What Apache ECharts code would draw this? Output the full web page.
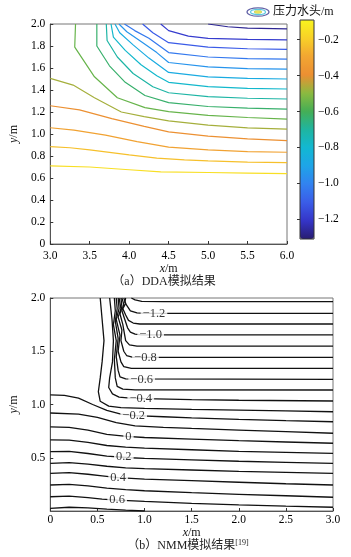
<!DOCTYPE html>
<html>
<head>
<meta charset="utf-8">
<script src="https://cdn.jsdelivr.net/npm/echarts@6/dist/echarts.min.js"></script>
<style>
html,body{margin:0;padding:0;background:#fff;}
#chart{width:351px;height:557px;}
</style>
</head>
<body>
<div id="chart"></div>
<script>
// (a) DDA — pressure head levels of the contour lines, bottom to top
var ddaLevels = [-0.15, -0.23, -0.31, -0.39, -0.47, -0.55, -0.63, -0.71, -0.79, -0.87, -0.95, -1.03, -1.11, -1.19, -1.27];
// lines reaching the left edge
var ddaL1 = [[3,0.71],[3.5,0.70],[4.0,0.675],[4.4,0.655],[5.0,0.65],[5.5,0.645],[6,0.64]];
var ddaL2 = [[3,0.885],[3.25,0.875],[3.5,0.855],[4.0,0.81],[4.35,0.78],[4.7,0.765],[5.0,0.755],[5.5,0.745],[6,0.74]];
var ddaL3 = [[3,1.057],[3.3,1.035],[3.7,0.99],[4.1,0.93],[4.5,0.88],[5.0,0.855],[5.5,0.84],[6,0.834]];
var ddaL4 = [[3,1.257],[3.37,1.22],[3.78,1.14],[4.19,1.07],[4.5,1.02],[5.0,0.98],[5.5,0.955],[6,0.94]];
var ddaL5 = [[3,1.506],[3.29,1.445],[3.56,1.33],[3.9,1.2],[4.19,1.158],[4.5,1.12],[5.0,1.08],[5.5,1.055],[6,1.045]];
// lines reaching the top edge
var ddaU1 = [[3.32,2.0],[3.31,1.79],[3.56,1.52],[3.85,1.33],[4.2,1.24],[4.5,1.203],[5.0,1.17],[5.5,1.15],[6,1.136]];
var ddaU2 = [[3.59,2.0],[3.59,1.80],[3.75,1.62],[3.95,1.47],[4.2,1.35],[4.5,1.285],[5.0,1.25],[5.5,1.235],[6,1.227]];
var ddaU3 = [[3.71,2.0],[3.72,1.85],[3.85,1.70],[4.05,1.55],[4.3,1.43],[4.5,1.375],[5.0,1.34],[5.5,1.325],[6,1.318]];
var ddaU4 = [[3.77,2.0],[3.80,1.88],[3.95,1.76],[4.15,1.63],[4.35,1.53],[4.5,1.47],[5.0,1.43],[5.5,1.415],[6,1.409]];
var ddaU5 = [[3.82,2.0],[3.88,1.92],[4.05,1.81],[4.25,1.69],[4.5,1.56],[5.0,1.52],[5.5,1.505],[6,1.50]];
var ddaU6 = [[3.87,2.0],[3.97,1.93],[4.15,1.84],[4.35,1.74],[4.5,1.65],[5.0,1.61],[5.5,1.595],[6,1.59]];
var ddaU7 = [[3.94,2.0],[4.07,1.94],[4.25,1.87],[4.5,1.74],[5.0,1.70],[5.5,1.685],[6,1.68]];
var ddaU8 = [[4.17,2.0],[4.3,1.92],[4.5,1.83],[5.0,1.79],[5.5,1.775],[6,1.77]];
var ddaU9 = [[4.4,2.0],[4.5,1.94],[4.75,1.89],[5.0,1.87],[5.5,1.86],[6,1.855]];
var ddaU10 = [[5.0,2.0],[5.25,1.975],[5.5,1.962],[6,1.955]];
var ddaLines = [ddaL1, ddaL2, ddaL3, ddaL4, ddaL5, ddaU1, ddaU2, ddaU3, ddaU4, ddaU5, ddaU6, ddaU7, ddaU8, ddaU9, ddaU10];

// colour bar
var cbMin = -1.31, cbMax = -0.09;
var cbTicks = [-1.2, -1.0, -0.8, -0.6, -0.4, -0.2];
var cbColors = ['#281c70','#3535c8','#3a5ce8','#3282f0','#1ea4e8','#12b8d2','#1fb5a0','#45ae55','#8cba40','#ec8f32','#f2a632','#f8d028','#f8f41e'];

// (b) NMM — contour levels and lines
var nmmLevels = [-1.3, -1.2, -1.1, -1.0, -0.9, -0.8, -0.7, -0.6, -0.5, -0.4, -0.3, -0.2, -0.1, 0, 0.1, 0.2, 0.3, 0.4, 0.5, 0.6, 0.7];
var nmmM13 = [[0.86,2.0],[0.9,1.982],[0.97,1.968],[1.2,1.966],[3,1.966]];
var nmmM12 = [[0.8,2.0],[0.79,1.96],[0.82,1.92],[0.85,1.88],[0.92,1.86],[1.0,1.856],[3,1.856]];
var nmmM11 = [[0.78,2.0],[0.8,1.95],[0.77,1.9],[0.8,1.84],[0.83,1.79],[0.88,1.765],[0.95,1.756],[3,1.756]];
var nmmM10 = [[0.76,2.0],[0.78,1.94],[0.76,1.88],[0.79,1.8],[0.82,1.72],[0.85,1.68],[0.9,1.66],[0.97,1.653],[3,1.653]];
var nmmM09 = [[0.75,2.0],[0.76,1.92],[0.74,1.85],[0.77,1.75],[0.79,1.65],[0.8,1.6],[0.84,1.56],[0.92,1.549],[3,1.549]];
var nmmM08 = [[0.73,2.0],[0.75,1.9],[0.72,1.82],[0.76,1.7],[0.75,1.6],[0.78,1.5],[0.81,1.46],[0.88,1.443],[3,1.443]];
var nmmM07 = [[0.72,2.0],[0.73,1.9],[0.7,1.8],[0.74,1.65],[0.72,1.5],[0.75,1.4],[0.78,1.355],[0.86,1.339],[3,1.339]];
var nmmM06 = [[0.7,2.0],[0.71,1.9],[0.69,1.78],[0.72,1.62],[0.7,1.45],[0.72,1.32],[0.74,1.26],[0.8,1.24],[3,1.236]];
var nmmM05 = [[0.68,2.0],[0.69,1.88],[0.67,1.75],[0.7,1.6],[0.68,1.42],[0.69,1.25],[0.71,1.17],[0.77,1.145],[0.9,1.138],[3,1.136]];
var nmmM04 = [[0.63,2.0],[0.655,1.8],[0.67,1.6],[0.66,1.4],[0.63,1.25],[0.62,1.16],[0.66,1.1],[0.73,1.07],[0.85,1.06],[1.0,1.055],[1.5,1.045],[2,1.04],[3,1.033]];
var nmmM03 = [[0.53,2.0],[0.55,1.8],[0.57,1.6],[0.55,1.4],[0.53,1.25],[0.51,1.12],[0.53,1.03],[0.62,0.985],[0.75,0.97],[1.0,0.963],[1.5,0.955],[2.0,0.948],[2.5,0.94],[3,0.932]];
var nmmM02 = [[0,1.09],[0.15,1.085],[0.3,1.06],[0.45,1.0],[0.6,0.945],[0.75,0.91],[0.9,0.895],[1.2,0.885],[1.5,0.875],[2.0,0.86],[2.5,0.848],[3,0.838]];
var nmmM01 = [[0,0.92],[0.3,0.91],[0.5,0.88],[0.7,0.83],[0.9,0.8],[1.2,0.785],[1.5,0.775],[2.0,0.76],[2.5,0.745],[3,0.73]];
var nmmP00 = [[0,0.79],[0.2,0.785],[0.4,0.76],[0.6,0.72],[0.81,0.70],[1.0,0.69],[1.5,0.675],[2.0,0.66],[2.5,0.648],[3,0.636]];
var nmmP01 = [[0,0.667],[0.2,0.665],[0.4,0.645],[0.6,0.615],[0.8,0.6],[1.0,0.59],[1.5,0.575],[2.0,0.56],[2.5,0.55],[3,0.542]];
var nmmP02 = [[0,0.557],[0.2,0.56],[0.4,0.54],[0.6,0.515],[0.85,0.50],[1.0,0.495],[1.5,0.48],[2.0,0.467],[2.5,0.457],[3,0.448]];
var nmmP03 = [[0,0.448],[0.2,0.455],[0.4,0.44],[0.6,0.42],[0.8,0.405],[1.0,0.398],[1.5,0.385],[2.0,0.372],[2.5,0.362],[3,0.354]];
var nmmP04 = [[0,0.354],[0.2,0.36],[0.4,0.345],[0.55,0.33],[0.72,0.313],[1.0,0.3],[1.5,0.285],[2.0,0.27],[2.5,0.256],[3,0.244]];
var nmmP05 = [[0,0.244],[0.2,0.25],[0.4,0.235],[0.6,0.215],[0.8,0.2],[1.0,0.19],[1.5,0.172],[2.0,0.157],[2.5,0.143],[3,0.129]];
var nmmP06 = [[0,0.134],[0.2,0.14],[0.4,0.125],[0.55,0.112],[0.71,0.103],[1.0,0.09],[1.5,0.072],[2.0,0.057],[2.5,0.045],[3,0.035]];
var nmmP07 = [[0,0.025],[0.2,0.035],[0.4,0.03],[0.6,0.018],[0.8,0.008],[1.0,0.0]];
var nmmLines = [nmmM13, nmmM12, nmmM11, nmmM10, nmmM09, nmmM08, nmmM07, nmmM06, nmmM05, nmmM04, nmmM03, nmmM02, nmmM01,
                nmmP00, nmmP01, nmmP02, nmmP03, nmmP04, nmmP05, nmmP06, nmmP07];
// inline contour labels
var nmmLabelPos = [[1.1,1.856],[1.065,1.653],[1.01,1.443],[0.97,1.236],[0.96,1.056],[0.885,0.896],[0.83,0.699],[0.78,0.505],[0.72,0.313],[0.71,0.104]];
var nmmLabelText = ['\u22121.2','\u22121.0','\u22120.8','\u22120.6','\u22120.4','\u22120.2','0','0.2','0.4','0.6'];

var font = '"Liberation Serif", "Noto Sans CJK SC", serif';
var tickFmt = function (v) { return v === 0 ? '0' : v.toFixed(1); };

var chart = echarts.init(document.getElementById('chart'));

function valueAxis(gridIndex, min, max, interval, extra) {
  var ax = {
    type: 'value', gridIndex: gridIndex, min: min, max: max, interval: interval,
    axisLine: { show: true, lineStyle: { color: '#555', width: 1 } },
    axisTick: { show: true, inside: true, length: 3, lineStyle: { color: '#333' } },
    axisLabel: { formatter: tickFmt, fontFamily: font, fontSize: 11.5, color: '#000', margin: 5 },
    splitLine: { show: false },
    nameTextStyle: { fontFamily: font, fontSize: 12, color: '#111', rich: { i: { fontStyle: 'italic', fontFamily: font, fontSize: 12 } } }
  };
  for (var k in extra) ax[k] = extra[k];
  return ax;
}

var legendIcon = 'image://data:image/svg+xml;charset=utf-8,' + encodeURIComponent(
  "<svg xmlns='http://www.w3.org/2000/svg' width='24' height='10'>" +
  "<ellipse cx='12' cy='5' rx='11' ry='4.2' fill='#ffffff' stroke='#3a3a90' stroke-width='1.2'/>" +
  "<ellipse cx='12' cy='5' rx='7.5' ry='2.7' fill='none' stroke='#30b8d8' stroke-width='1.2'/>" +
  "<ellipse cx='12' cy='5' rx='4' ry='1.4' fill='#f0e030' stroke='#90c040' stroke-width='0.6'/></svg>");

var series = [];
ddaLines.forEach(function (line, i) {
  var t = (ddaLevels[i] - cbMin) / (cbMax - cbMin);
  series.push({
    type: 'line', xAxisIndex: 0, yAxisIndex: 0, data: line, showSymbol: false, silent: true,
    lineStyle: { color: echarts.color.lerp(t, cbColors), width: 1.2 }
  });
});
var dummyIndex = series.length;
series.push({ type: 'scatter', name: '压力水头/m', xAxisIndex: 1, yAxisIndex: 1, data: [] });
nmmLines.forEach(function (line) {
  series.push({
    type: 'line', xAxisIndex: 2, yAxisIndex: 2, data: line, showSymbol: false, silent: true,
    lineStyle: { color: '#111', width: 1.3 }
  });
});
series.push({
  type: 'scatter', xAxisIndex: 2, yAxisIndex: 2, symbolSize: 1, silent: true, z: 5,
  itemStyle: { color: 'rgba(0,0,0,0)' },
  data: nmmLabelPos.map(function (p, i) { return { value: p, name: nmmLabelText[i] }; }),
  label: {
    show: true, position: 'inside', formatter: function (p) { return p.name; },
    fontFamily: font, fontSize: 12.5, color: '#000', backgroundColor: '#fff', padding: [0, 2]
  }
});

chart.setOption({
  animation: false,
  backgroundColor: '#fff',
  grid: [
    { left: 43, top: 24, width: 244, height: 220, show: true, borderColor: '#777', borderWidth: 1 },
    { left: 300, top: 20, width: 14, height: 219, show: true, borderColor: '#333', borderWidth: 1, z: 10 },
    { left: 43, top: 298, width: 290, height: 213, show: true, borderColor: '#777', borderWidth: 1 }
  ],
  xAxis: [
    valueAxis(0, 3, 6, 0.5, { name: '{i|x}/m', nameLocation: 'middle', nameGap: 18,
      axisLabel: { formatter: tickFmt, fontFamily: font, fontSize: 11.5, color: '#000', margin: 6 } }),
    { type: 'value', gridIndex: 1, min: 0, max: 1, show: false },
    valueAxis(2, 0, 3, 0.5, { name: '{i|x}/m', nameLocation: 'middle', nameGap: 16,
      axisLabel: { formatter: tickFmt, fontFamily: font, fontSize: 11.5, color: '#000', margin: 3 } })
  ],
  yAxis: [
    valueAxis(0, 0, 2, 0.2, { name: '{i|y}/m', nameLocation: 'middle', nameGap: 20, nameRotate: 90 }),
    { type: 'value', gridIndex: 1, min: cbMin, max: cbMax, position: 'right', z: 11,
      axisLine: { show: false },
      axisTick: { show: true, inside: true, length: 3, customValues: cbTicks, lineStyle: { color: '#333' } },
      axisLabel: { customValues: cbTicks, margin: 4, fontFamily: font, fontSize: 11.5, color: '#000',
        formatter: function (v) { return '\u2212' + Math.abs(v).toFixed(1); } },
      splitLine: { show: false } },
    valueAxis(2, 0, 2, 0.5, { name: '{i|y}/m', nameLocation: 'middle', nameGap: 20, nameRotate: 90,
      axisLabel: { formatter: tickFmt, fontFamily: font, fontSize: 11.5, color: '#000', margin: 5, showMinLabel: false } })
  ],
  visualMap: {
    type: 'continuous', min: cbMin, max: cbMax, seriesIndex: dummyIndex,
    left: 300, top: 20, itemWidth: 14, itemHeight: 219, padding: 0,
    calculable: false, hoverLink: false, inRange: { color: cbColors }
  },
  legend: {
    left: 246, top: 6, padding: 0, itemWidth: 24, itemHeight: 10, selectedMode: false,
    data: [{ name: '压力水头/m', icon: legendIcon }],
    textStyle: { fontFamily: font, fontSize: 12, color: '#111', padding: [0, 0, 0, -2] }
  },
  graphic: [
    { type: 'text', x: 164, y: 282, silent: true,
      style: { text: '（a）DDA模拟结果', fontFamily: font, fontSize: 12, fill: '#222', align: 'center', verticalAlign: 'middle' } },
    { type: 'text', x: 188, y: 546, silent: true,
      style: { text: '（b）NMM模拟结果{sup|[19]}', fontFamily: font, fontSize: 12, fill: '#222', align: 'center', verticalAlign: 'middle',
        rich: { sup: { fontFamily: font, fontSize: 8, fill: '#222', verticalAlign: 'top', padding: [0, 0, 6, 0] } } } }
  ],
  series: series
});
</script>
</body>
</html>
